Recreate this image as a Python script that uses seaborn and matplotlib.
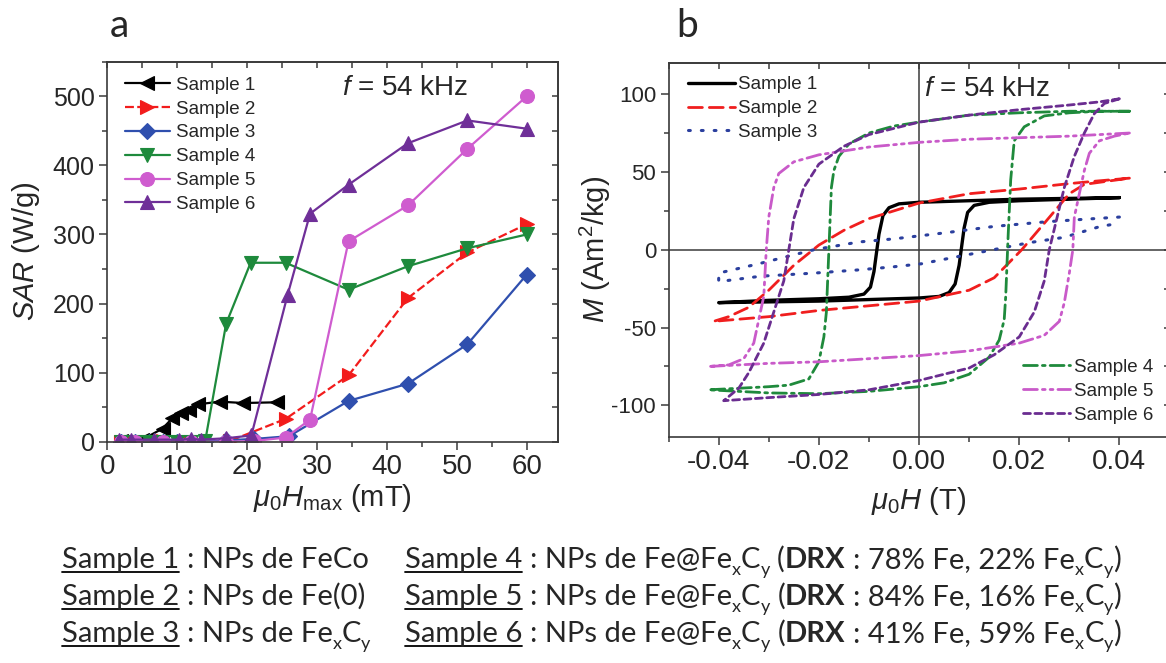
import matplotlib
matplotlib.use('Agg')
import matplotlib.pyplot as plt
import seaborn as sns
from matplotlib.ticker import MultipleLocator, FormatStrFormatter
from matplotlib.lines import Line2D

# ---------------- data : panel a (SAR vs field) ----------------
field_s1 = [2, 5, 7.9, 9.3, 10.5, 11.7, 12.9, 16.1, 19.4, 24.2]
sar_s1 = [1, 3, 19, 34, 41, 46, 54, 58, 56, 57]
field_s2 = [2, 4, 8, 12, 17.5, 25.5, 34.5, 43, 51.5, 60]
sar_s2 = [0, 0, 1, 0, 1, 33, 96, 208, 274, 315]
field_s3 = [2, 4, 6, 8, 10, 12, 14, 17, 21, 26, 34.5, 43, 51.5, 60]
sar_s3 = [0, 0, 0, 0, 0, 0, 0, 2, 4, 8, 59, 84, 141, 242]
field_s4 = [2, 4, 6, 8, 10, 12, 14, 17, 20.5, 25.5, 34.5, 43, 51.5, 60]
sar_s4 = [0, 0, 0, 0, 0, 0, 1, 171, 259, 259, 220, 254, 280, 300]
field_s5 = [2, 4, 8, 12, 17, 21, 25.5, 29, 34.5, 43, 51.5, 60]
sar_s5 = [0, 0, 0, 0, 0, 1, 6, 32, 290, 342, 424, 500]
field_s6 = [1.7, 3.4, 6.7, 10.3, 12, 13.4, 17, 20.6, 25.8, 29, 34.5, 43, 51.5, 60]
sar_s6 = [3, 3, 3, 3, 4, 3, 5, 9, 213, 330, 372, 432, 465, 453]

# ---------------- data : panel b (hysteresis loops) ----------------
# each loop: descending branch (dn) then ascending branch (up)
h1_dn = [0.040, 0.030, 0.020, 0.010, 0.000, -0.004, -0.006, -0.0072, -0.0080, -0.0085, -0.0090, -0.0097, -0.0110, -0.0140, -0.020, -0.030, -0.040]
m1_dn = [33.5, 33.0, 32.5, 31.5, 30.5, 29.5, 27.0, 22.0, 10.0, -2.0, -14.0, -24.0, -28.5, -30.5, -31.5, -32.5, -34.0]
h1_up = [-0.040, -0.030, -0.020, -0.010, 0.000, 0.004, 0.006, 0.0072, 0.0080, 0.0085, 0.0090, 0.0097, 0.0110, 0.0140, 0.020, 0.030, 0.040]
m1_up = [-34.0, -33.5, -33.0, -32.0, -31.0, -30.0, -27.5, -22.0, -10.0, 2.0, 14.0, 24.0, 28.5, 30.5, 31.5, 32.5, 33.5]

h2_dn = [0.042, 0.035, 0.030, 0.020, 0.010, 0.000, -0.010, -0.015, -0.020, -0.025, -0.030, -0.034, -0.038, -0.041]
m2_dn = [46, 44, 42.5, 39, 36, 30, 20, 12.5, 3, -10, -26, -37, -43, -46]
h2_up = [-0.041, -0.030, -0.020, -0.010, 0.000, 0.010, 0.015, 0.0205, 0.025, 0.030, 0.033, 0.042]
m2_up = [-46, -43, -39, -36, -33, -26, -18, 0, 17, 36, 42, 46]

h3_dn = [0.040, 0.035, 0.0255, 0.015, 0.0055, -0.005, -0.012, -0.021, -0.0265, -0.032, -0.040]
m3_dn = [21, 20, 18, 15, 11, 7, 5, 0, -4.5, -9, -15]
h3_up = [-0.040, -0.0316, -0.0209, -0.0123, -0.0052, 0.0005, 0.0076, 0.0148, 0.0219, 0.029, 0.0362, 0.040]
m3_up = [-20.5, -17, -15, -13, -11, -9, -4.5, 0, 4.5, 8, 15, 17]

h4_dn = [0.042, 0.030, 0.020, 0.010, 0.000, -0.005, -0.010, -0.014, -0.016, -0.017, -0.0175, -0.0180, -0.0185, -0.019, -0.020, -0.022, -0.026, -0.030, -0.036, -0.042]
m4_dn = [89, 89, 88, 86.5, 82, 79.5, 75, 68, 60, 51, 40, 0, -40, -56, -72, -83, -87, -88, -89, -90]
h4_up = [-0.042, -0.030, -0.020, -0.010, 0.000, 0.005, 0.010, 0.014, 0.016, 0.017, 0.0173, 0.0178, 0.0183, 0.019, 0.021, 0.025, 0.030, 0.036, 0.042]
m4_up = [-90, -92, -92.5, -91, -88, -85.5, -80, -69, -58, -45, -30, 10, 45, 70, 79, 86, 88, 89, 89]

h5_dn = [0.042, 0.030, 0.020, 0.010, 0.000, -0.010, -0.020, -0.025, -0.028, -0.029, -0.030, -0.0305, -0.031, -0.032, -0.033, -0.035, -0.038, -0.042]
m5_dn = [75, 73, 72, 71, 69, 66, 61, 56.5, 49, 40, 21, 0, -30, -45, -60, -70, -74, -75]
h5_up = [-0.042, -0.030, -0.020, -0.010, 0.000, 0.010, 0.020, 0.025, 0.028, 0.029, 0.030, 0.0307, 0.031, 0.032, 0.033, 0.034, 0.036, 0.039, 0.042]
m5_up = [-75, -73, -72, -70, -68, -65, -60, -55, -46, -34, -15, 0, 21, 36, 51, 62, 70, 73, 75]

h6_dn = [0.040, 0.036, 0.030, 0.020, 0.010, 0.000, -0.010, -0.015, -0.020, -0.023, -0.025, -0.026, -0.027, -0.029, -0.031, -0.034, -0.036, -0.039]
m6_dn = [97, 95, 93, 90, 86.5, 82, 74, 66.5, 55, 40, 20, 0, -20, -40, -60, -79, -89, -97]
h6_up = [-0.039, -0.030, -0.020, -0.010, 0.000, 0.010, 0.015, 0.020, 0.023, 0.025, 0.026, 0.0275, 0.029, 0.031, 0.033, 0.035, 0.037, 0.040]
m6_up = [-97, -95, -93, -90, -84, -76, -67.5, -56, -40, -20, 0, 20, 40, 60, 75, 87.5, 94, 97]

labels = ['Sample 1', 'Sample 2', 'Sample 3', 'Sample 4', 'Sample 5', 'Sample 6']
colors_a = ['#000000', '#f21c1c', '#2f4fae', '#1e8a3c', '#cf5ccf', '#6f2f98']
colors_b = ['#000000', '#f01e1e', '#2b3f9e', '#1f8a3c', '#c95ac9', '#6a2d90']
markers = ['<', '>', 'D', 'v', 'o', '^']

# bottom caption rows (text pieces: n=normal, u=underlined, b=bold, s=subscript)
col1_rows = [
    [('Sample 1', 'u'), (' : NPs de FeCo', 'n')],
    [('Sample 2', 'u'), (' : NPs de Fe(0)', 'n')],
    [('Sample 3', 'u'), (' : NPs de Fe', 'n'), ('x', 's'), ('C', 'n'), ('y', 's')],
]
drx_fe = ['78% Fe, 22% Fe', '84% Fe, 16% Fe', '41% Fe, 59% Fe']
col2_rows = [
    [('Sample %d' % (i + 4), 'u'), (' : NPs de Fe@Fe', 'n'), ('x', 's'), ('C', 'n'), ('y', 's'),
     (' (', 'n'), ('DRX', 'b'), (' : ' + drx_fe[i], 'n'), ('x', 's'), ('C', 'n'), ('y', 's'), (')', 'n')]
    for i in range(3)
]

# ---------------- style ----------------
sns.set_style('ticks')
plt.rcParams['font.family'] = ['Liberation Sans', 'DejaVu Sans']
plt.rcParams['mathtext.fontset'] = 'custom'
plt.rcParams['mathtext.rm'] = 'Liberation Sans'
plt.rcParams['mathtext.it'] = 'Liberation Sans:italic'
plt.rcParams['mathtext.bf'] = 'Liberation Sans:bold'
plt.rcParams['axes.unicode_minus'] = False

spine_col = '#3a3a3a'

fig = plt.figure(figsize=(11.66, 6.63), dpi=100)
W, H = 1166.0, 663.0
ax_a = fig.add_axes([107.3 / W, 1 - 441.7 / H, 451 / W, 380 / H])
ax_b = fig.add_axes([668.6 / W, 1 - 436.5 / H, 500.9 / W, 373.5 / H])


def style_axes(ax, xmaj, xmin, ymaj, ymin, xsize, ysize):
    for s in ax.spines.values():
        s.set_visible(True)
        s.set_color(spine_col)
        s.set_linewidth(1.2)
    ax.xaxis.set_major_locator(MultipleLocator(xmaj))
    ax.xaxis.set_minor_locator(MultipleLocator(xmin))
    ax.yaxis.set_major_locator(MultipleLocator(ymaj))
    ax.yaxis.set_minor_locator(MultipleLocator(ymin))
    ax.tick_params(which='both', direction='out', color=spine_col, width=1.1,
                   top=False, right=False)
    ax.tick_params(which='major', length=6)
    ax.tick_params(which='minor', length=3.5)
    ax.tick_params(axis='x', labelsize=xsize, pad=3)
    ax.tick_params(axis='y', labelsize=ysize, pad=3)
    # inward ticks on top and right
    top = ax.secondary_xaxis('top')
    top.xaxis.set_major_locator(MultipleLocator(xmin))
    top.tick_params(direction='in', length=4, width=1.1, color=spine_col, labeltop=False)
    top.spines['top'].set_color(spine_col)
    top.spines['top'].set_linewidth(1.2)
    right = ax.secondary_yaxis('right')
    right.yaxis.set_major_locator(MultipleLocator(ymin))
    right.tick_params(direction='in', length=4, width=1.1, color=spine_col, labelright=False)
    right.spines['right'].set_color(spine_col)
    right.spines['right'].set_linewidth(1.2)


# ---------------- panel a ----------------
fields = [field_s1, field_s2, field_s3, field_s4, field_s5, field_s6]
sars = [sar_s1, sar_s2, sar_s3, sar_s4, sar_s5, sar_s6]
for i in range(6):
    ls = (0, (4, 1.5)) if i == 1 else '-'
    ms = 8.5 if markers[i] == 'D' else 10
    sns.lineplot(x=fields[i], y=sars[i], ax=ax_a, color=colors_a[i], lw=1.6,
                 linestyle=ls, marker=markers[i], markersize=ms,
                 markeredgecolor=colors_a[i], markeredgewidth=0.8,
                 sort=False, estimator=None, label=labels[i], legend=False)

ax_a.set_xlim(0, 64.5)
ax_a.set_ylim(0, 550)
style_axes(ax_a, 10, 5, 100, 50, 20, 18)
ax_a.set_xlabel(r'$\mu_0H_{\mathrm{max}}$ (mT)', fontsize=21)
ax_a.set_ylabel(r'$SAR$ (W/g)', fontsize=21)
ax_a.yaxis.set_label_coords(-0.145, 0.5)
ax_a.xaxis.set_label_coords(0.5, -0.105)
ax_a.text(33.5, 512, r'$f$ = 54 kHz', fontsize=20, va='center', ha='left')
ax_a.legend(loc='upper left', bbox_to_anchor=(0.039, 0.961), frameon=False,
            fontsize=13.5, handlelength=2.4, handletextpad=0.3, labelspacing=0.36,
            borderpad=0, borderaxespad=0)

# ---------------- panel b ----------------
loops_h = [h1_dn + h1_up, h2_dn + h2_up, h3_dn + h3_up, h4_dn + h4_up, h5_dn + h5_up, h6_dn + h6_up]
loops_m = [m1_dn + m1_up, m2_dn + m2_up, m3_dn + m3_up, m4_dn + m4_up, m5_dn + m5_up, m6_dn + m6_up]
line_styles = ['-', (0, (5, 2.5)), (0, (0.6, 3.6)), (0, (5, 1.8, 1, 1.8)),
               (0, (5, 1.8, 1, 1.8, 1, 1.8)), (0, (2.5, 1.6))]
widths = [2.4, 2.0, 2.2, 2.0, 2.0, 2.0]

ax_b.axhline(0, color=spine_col, lw=1.1, zorder=1)
ax_b.axvline(0, color=spine_col, lw=1.1, zorder=1)
for i in range(6):
    sns.lineplot(x=loops_h[i], y=loops_m[i], ax=ax_b, color=colors_b[i], lw=widths[i],
                 linestyle=line_styles[i], sort=False, estimator=None,
                 label=labels[i], legend=False, dash_capstyle='round')

ax_b.set_xlim(-0.05, 0.05)
ax_b.set_ylim(-120, 120)
style_axes(ax_b, 0.02, 0.01, 50, 25, 20, 16)
ax_b.xaxis.set_major_formatter(FormatStrFormatter('%.2f'))
ax_b.set_xlabel(r'$\mu_0H$ (T)', fontsize=21)
ax_b.set_ylabel(r'$M$ (Am$^2$/kg)', fontsize=21)
ax_b.yaxis.set_label_coords(-0.111, 0.5)
ax_b.xaxis.set_label_coords(0.5, -0.13)
ax_b.text(0.0009, 103.5, r'$f$ = 54 kHz', fontsize=20, va='center', ha='left')

handles, _ = ax_b.get_legend_handles_labels()
leg1 = ax_b.legend(handles[:3], labels[:3], loc='upper left', bbox_to_anchor=(0.038, 0.965),
                   frameon=False, fontsize=13.5, handlelength=2.5, handletextpad=0.2,
                   labelspacing=0.36, borderpad=0, borderaxespad=0)
ax_b.add_artist(leg1)
ax_b.legend(handles[3:], labels[3:], loc='lower left', bbox_to_anchor=(0.708, 0.034),
            frameon=False, fontsize=13.5, handlelength=2.5, handletextpad=0.2,
            labelspacing=0.36, borderpad=0, borderaxespad=0)

# panel letters
fig.text(119 / W, 1 - 37 / H, 'a', fontsize=28, family='Lato', ha='center', va='baseline')
fig.text(687 / W, 1 - 37 / H, 'b', fontsize=28, family='Lato', ha='center', va='baseline')

# ---------------- caption under the panels ----------------
renderer = fig.canvas.get_renderer()
BODY = 21


def piece_kw(kind):
    kw = dict(family='Lato', fontsize=BODY)
    if kind == 'b':
        kw['weight'] = 'bold'
    if kind == 's':
        kw['fontsize'] = BODY * 0.62
    return kw


def measure(s, kw):
    t = fig.text(0, 0, s, **kw)
    w = t.get_window_extent(renderer).width
    t.remove()
    return w


def draw_row(x_px, base_px, pieces):
    x = x_px
    for s, kind in pieces:
        kw = piece_kw(kind)
        sp = measure('n n', kw) - measure('nn', kw)
        core = s.strip(' ')
        x += (len(s) - len(s.lstrip(' '))) * sp
        dy = -0.25 * BODY * 100 / 72 if kind == 's' else 0
        t = fig.text(x / W, 1 - (base_px - dy) / H, core, va='baseline', ha='left', **kw)
        w = t.get_window_extent(renderer).width
        if kind == 'u':
            yy = 1 - (base_px + 4) / H
            fig.add_artist(Line2D([x / W, (x + w) / W], [yy, yy], color='black', lw=1.3,
                                  transform=fig.transFigure))
        x += w + (len(s) - len(s.rstrip(' '))) * sp


baselines = [568, 605, 642]
for r in range(3):
    draw_row(62, baselines[r], col1_rows[r])
    draw_row(405, baselines[r], col2_rows[r])

fig.savefig('out.png', dpi=100)
